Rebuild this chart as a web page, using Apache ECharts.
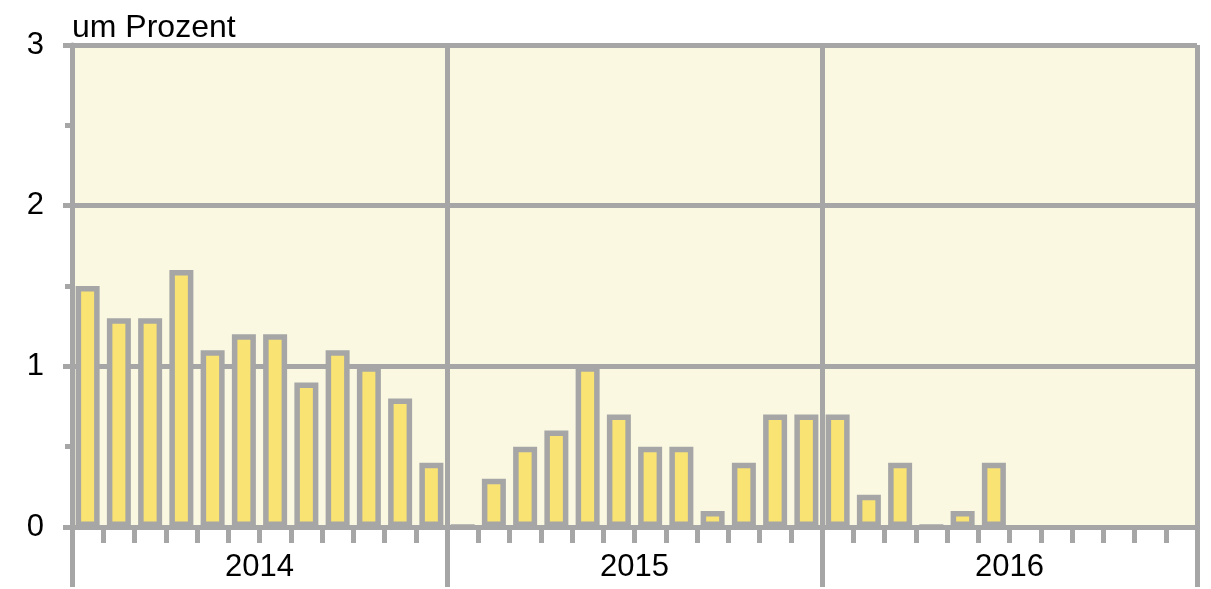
<!DOCTYPE html>
<html>
<head>
<meta charset="utf-8">
<script src="https://cdn.jsdelivr.net/npm/echarts@6/dist/echarts.min.js"></script>
<style>
  html, body { margin: 0; padding: 0; background: #fff; }
  #chart { width: 1211px; height: 589px; }
</style>
</head>
<body>
<div id="chart"></div>
<script>
// Jahre und Monate
var years = ["2014", "2015", "2016"];
var months = [];
years.forEach(function (y) {
  for (var m = 1; m <= 12; m++) months.push(y + "-" + m);
});
// Werte in Prozent, je Monat (null = kein Wert)
var values2014 = [1.5, 1.3, 1.3, 1.6, 1.1, 1.2, 1.2, 0.9, 1.1, 1.0, 0.8, 0.4];
var values2015 = [0, 0.3, 0.5, 0.6, 1.0, 0.7, 0.5, 0.5, 0.1, 0.4, 0.7, 0.7];
var values2016 = [0.7, 0.2, 0.4, 0, 0.1, 0.4, null, null, null, null, null, null];
var yTicks = [0, 1, 2, 3];

var values = values2014.concat(values2015, values2016);
var grau = "#a6a6a6";
var linie = 5;
var schrift = "Liberation Sans, Arial, sans-serif";

var myChart = echarts.init(document.getElementById("chart"));
var option = {
  animation: false,
  grid: {
    left: 72,
    right: 14,
    top: 45,
    bottom: 62,
    show: true,
    backgroundColor: "#fbf8e2",
    borderWidth: 0,
  },
  xAxis: [
    {
      type: "category",
      data: months,
      boundaryGap: true,
      axisLine: { show: true, lineStyle: { color: grau, width: linie } },
      axisTick: { show: true, interval: 0, length: 16, lineStyle: { color: grau, width: linie } },
      axisLabel: { show: false },
      splitLine: { show: false },
    },
    {
      type: "category",
      data: years,
      position: "bottom",
      boundaryGap: true,
      axisLine: { show: false },
      axisTick: { show: true, interval: 0, length: 60, lineStyle: { color: grau, width: linie } },
      axisLabel: { color: "#000", fontSize: 31, fontFamily: schrift, margin: 25 },
      splitLine: { show: true, interval: 0, lineStyle: { color: grau, width: linie } },
    },
  ],
  yAxis: {
    type: "value",
    min: yTicks[0],
    max: yTicks[yTicks.length - 1],
    interval: 1,
    name: "um Prozent",
    nameLocation: "end",
    nameGap: 1,
    nameTextStyle: {
      color: "#000",
      fontSize: 32,
      fontFamily: schrift,
      align: "left",
      verticalAlign: "bottom",
    },
    axisLine: { show: true, lineStyle: { color: grau, width: linie } },
    axisTick: { show: true, length: 9, lineStyle: { color: grau, width: linie } },
    minorTick: { show: true, splitNumber: 2, length: 7, lineStyle: { color: grau, width: linie } },
    axisLabel: { color: "#000", fontSize: 31, fontFamily: schrift, margin: 28 },
    splitLine: { show: true, lineStyle: { color: grau, width: linie } },
  },
  series: [
    {
      type: "bar",
      xAxisIndex: 0,
      data: values,
      barWidth: 24,
      itemStyle: {
        color: "#f9e372",
        borderColor: grau,
        borderWidth: 5.5,
      },
    },
  ],
};
option && myChart.setOption(option);
window.addEventListener("resize", function () {
  myChart.resize();
});
</script>
</body>
</html>
